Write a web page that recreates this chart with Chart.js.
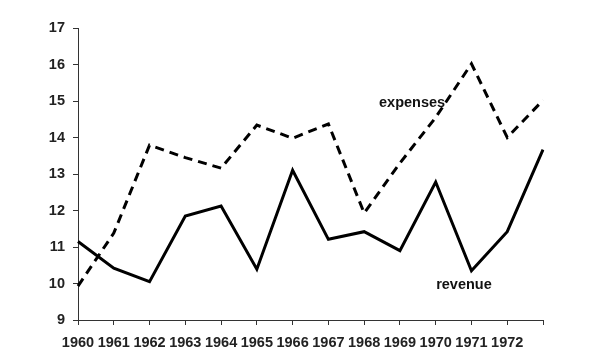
<!DOCTYPE html>
<html>
<head>
<meta charset="utf-8">
<script src="https://cdn.jsdelivr.net/npm/chart.js@4/dist/chart.umd.min.js"></script>
<style>
  html, body { margin: 0; padding: 0; background: #fff; }
  #wrap { width: 600px; height: 360px; }
</style>
</head>
<body>
<div id="wrap"><canvas id="chart" width="600" height="360"></canvas></div>
<script>
// données
const years = ['1960', '1961', '1962', '1963', '1964', '1965', '1966', '1967', '1968', '1969', '1970', '1971', '1972', ''];
const revenue = [11.15, 10.42, 10.05, 11.85, 12.12, 10.39, 13.1, 11.21, 11.42, 10.9, 12.78, 10.35, 11.42, 13.67];
const expenses = [9.93, 11.38, 13.79, 13.45, 13.16, 14.34, 13.98, 14.37, 11.93, 13.3, 14.55, 16.02, 14.0, 15.02];
const yTicks = [9, 10, 11, 12, 13, 14, 15, 16, 17];

// étiquettes posées dans le graphique (index, valeur)
const seriesLabels = [
  { text: 'expenses', x: 9.34, y: 14.95 },
  { text: 'revenue', x: 10.79, y: 9.96 }
];

const FONT = "'Liberation Sans', Arial, sans-serif";

const labelPlugin = {
  id: 'seriesLabels',
  afterDatasetsDraw(chart) {
    const ctx = chart.ctx;
    const xs = chart.scales.x, ys = chart.scales.y;
    ctx.save();
    ctx.font = 'bold 14.5px ' + FONT;
    ctx.fillStyle = '#111';
    ctx.textAlign = 'center';
    ctx.textBaseline = 'middle';
    seriesLabels.forEach(l => {
      ctx.fillText(l.text, xs.getPixelForValue(l.x), ys.getPixelForValue(l.y));
    });
    ctx.restore();
  }
};

new Chart(document.getElementById('chart').getContext('2d'), {
  type: 'line',
  data: {
    labels: years,
    datasets: [
      {
        label: 'revenue',
        data: revenue,
        borderColor: '#000',
        borderWidth: 3,
        pointRadius: 0,
        tension: 0,
        borderJoinStyle: 'miter'
      },
      {
        label: 'expenses',
        data: expenses,
        borderColor: '#000',
        borderWidth: 3,
        borderDash: [9, 6],
        pointRadius: 0,
        tension: 0,
        borderJoinStyle: 'miter'
      }
    ]
  },
  options: {
    responsive: false,
    animation: false,
    layout: { padding: { top: 28, right: 57, left: 0, bottom: 0 } },
    plugins: { legend: { display: false }, tooltip: { enabled: false } },
    scales: {
      x: {
        offset: false,
        afterFit: s => { s.height = 40; },
        border: { display: true, color: '#333', width: 1 },
        grid: { display: true, drawOnChartArea: false, drawTicks: true, tickLength: 5, color: '#333' },
        ticks: {
          autoSkip: false, maxRotation: 0, minRotation: 0, padding: 9,
          color: '#222', font: { family: FONT, size: 14.5, weight: 'bold' }
        }
      },
      y: {
        min: 9, max: 17,
        afterFit: s => { s.width = 78; },
        afterBuildTicks: s => { s.ticks = yTicks.map(v => ({ value: v })); },
        border: { display: true, color: '#333', width: 1 },
        grid: { display: true, drawOnChartArea: false, drawTicks: true, tickLength: 5, color: '#333' },
        ticks: {
          padding: 8,
          color: '#222', font: { family: FONT, size: 14.5, weight: 'bold' }
        }
      }
    }
  },
  plugins: [labelPlugin]
});
</script>
</body>
</html>
